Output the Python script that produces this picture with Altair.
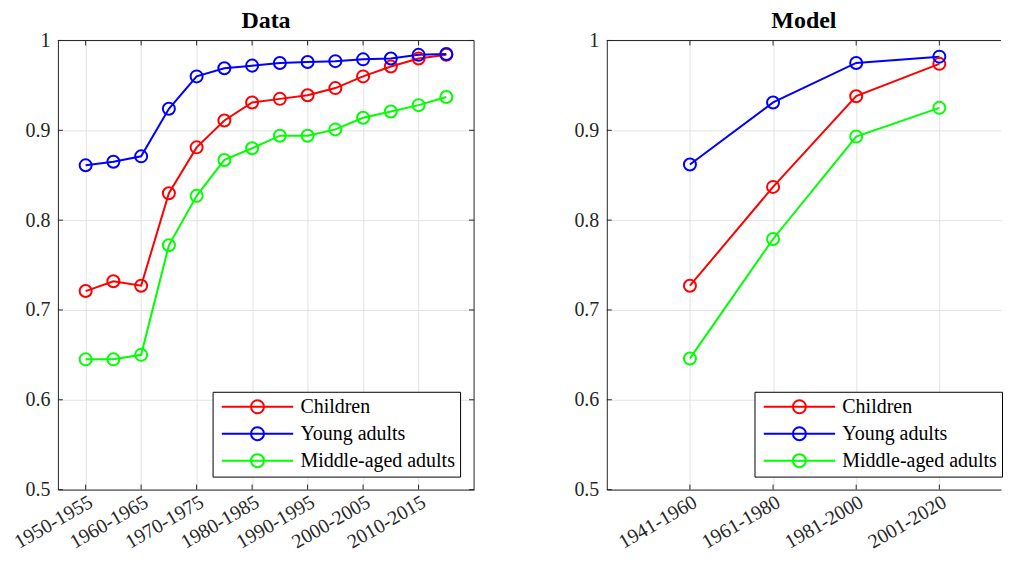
import json

import altair as alt
import pandas as pd

groups = ["Children", "Young adults", "Middle-aged adults"]
colors = ["#ff0000", "#0000ff", "#00ff00"]

data_periods = [
    "1950-1955", "1955-1960", "1960-1965", "1965-1970", "1970-1975",
    "1975-1980", "1980-1985", "1985-1990", "1990-1995", "1995-2000",
    "2000-2005", "2005-2010", "2010-2015", "2015-2020",
]
data_children = [0.721, 0.732, 0.727, 0.830, 0.881, 0.911, 0.931,
                 0.935, 0.939, 0.947, 0.960, 0.971, 0.980, 0.984]
data_young = [0.861, 0.865, 0.871, 0.924, 0.960, 0.969, 0.972,
              0.975, 0.976, 0.977, 0.979, 0.980, 0.984, 0.985]
data_middle = [0.645, 0.645, 0.650, 0.772, 0.827, 0.867, 0.880,
               0.894, 0.894, 0.901, 0.914, 0.921, 0.928, 0.937]
data_xticks = [1, 3, 5, 7, 9, 11, 13]

model_periods = ["1941-1960", "1961-1980", "1981-2000", "2001-2020"]
model_children = [0.727, 0.837, 0.938, 0.974]
model_young = [0.862, 0.931, 0.975, 0.982]
model_middle = [0.646, 0.779, 0.893, 0.925]
model_xticks = [1, 2, 3, 4]

y_ticks = [0.5, 0.6, 0.7, 0.8, 0.9, 1.0]

FONT = "Liberation Serif"
INK = "#262626"
H = 450
TICK = 5
# legend symbol: line through an open circle (unit circle, scaled by sqrt(size)/2)
SYMBOL = "M-5.5,0L5.5,0M1,0A1,1,0,1,1,-1,0A1,1,0,1,1,1,0"


def long_table(periods, series):
    rows = []
    for g, vals in zip(groups, series):
        for i, (p, v) in enumerate(zip(periods, vals)):
            rows.append({"x": i + 1, "period": p, "group": g, "value": v})
    return pd.DataFrame(rows)


def panel(title, periods, series, x_ticks, x_max, width, legend_x, right_box=True):
    df = long_table(periods, series)
    x_scale = alt.Scale(domain=[0, x_max], nice=False, zero=False)
    y_scale = alt.Scale(domain=[0.5, 1.0], nice=False, zero=False)
    x_axis = alt.Axis(
        values=x_ticks,
        labelExpr=f"{json.dumps(periods)}[datum.value - 1]",
        labelAngle=330,
        labelAlign="right",
        labelBaseline="top",
        labelFlush=False,
        labelOverlap=False,
        labelBound=False,
        labelPadding=2,
        title=None,
    )
    y_axis = alt.Axis(values=y_ticks, format=".1~f", title=None,
                      minExtent=50, maxExtent=50)

    def xq(field):
        return alt.X(field).scale(x_scale).axis(x_axis)

    def yq(field):
        return alt.Y(field).scale(y_scale).axis(y_axis)

    color = (
        alt.Color("group:N")
        .scale(domain=groups, range=colors)
        .legend(
            title=None, orient="none", legendX=legend_x, legendY=352,
            symbolType=SYMBOL, symbolSize=169, symbolStrokeWidth=2,
            symbolFillColor="transparent", symbolOffset=30, labelOffset=33,
            labelFont=FONT, labelFontSize=20, labelColor="black",
            padding=5, rowPadding=5, strokeColor="black",
            fillColor="white", cornerRadius=0,
        )
    )

    base = alt.Chart(df).encode(x=xq("x:Q"), y=yq("value:Q"), color=color)
    lines = base.mark_line(strokeWidth=2)
    points = base.mark_point(filled=False, size=145, strokeWidth=2, opacity=1)

    xt = pd.DataFrame({"v": x_ticks})
    yt = pd.DataFrame({"v": y_ticks})
    one = pd.DataFrame({"v": [0]})
    rule = dict(color=INK, strokeWidth=1)
    layers = [
        alt.Chart(xt).mark_rule(**rule).encode(
            x=xq("v:Q"), y=alt.value(H - TICK), y2=alt.value(H)),
        alt.Chart(xt).mark_rule(**rule).encode(
            x=xq("v:Q"), y=alt.value(0), y2=alt.value(TICK)),
        alt.Chart(yt).mark_rule(**rule).encode(
            y=yq("v:Q"), x=alt.value(0), x2=alt.value(TICK)),
        alt.Chart(one).mark_rule(**rule).encode(
            y=alt.value(0), x=alt.value(0), x2=alt.value(width)),
    ]
    if right_box:
        layers += [
            alt.Chart(yt).mark_rule(**rule).encode(
                y=yq("v:Q"), x=alt.value(width - TICK), x2=alt.value(width)),
            alt.Chart(one).mark_rule(**rule).encode(
                x=alt.value(width), y=alt.value(0), y2=alt.value(H)),
        ]
    return alt.layer(lines, points, *layers).properties(
        width=width,
        height=H,
        title=alt.Title(title, font=FONT, fontSize=24, fontWeight="bold",
                        color="black", offset=-2, frame="group"),
    )


left = panel("Data", data_periods, [data_children, data_young, data_middle],
             data_xticks, 15, 417, 155)
right = panel("Model", model_periods, [model_children, model_young, model_middle],
              model_xticks, 395 / 83.3, 395, 148, right_box=False)

chart = (
    alt.hconcat(left, right, spacing=82)
    .resolve_scale(color="independent")
    .resolve_legend(color="independent")
    .properties(padding={"left": 0, "top": 0, "right": 0, "bottom": 0})
    .configure_view(strokeWidth=0)
    .configure_axis(
        labelFont=FONT, labelFontSize=20, labelColor=INK, ticks=False,
        domainColor=INK, domainWidth=1, gridColor="#e3e3e3", gridWidth=1,
        labelPadding=8,
    )
)

chart.save("out.html", embed_options={"renderer": "svg", "actions": False})
